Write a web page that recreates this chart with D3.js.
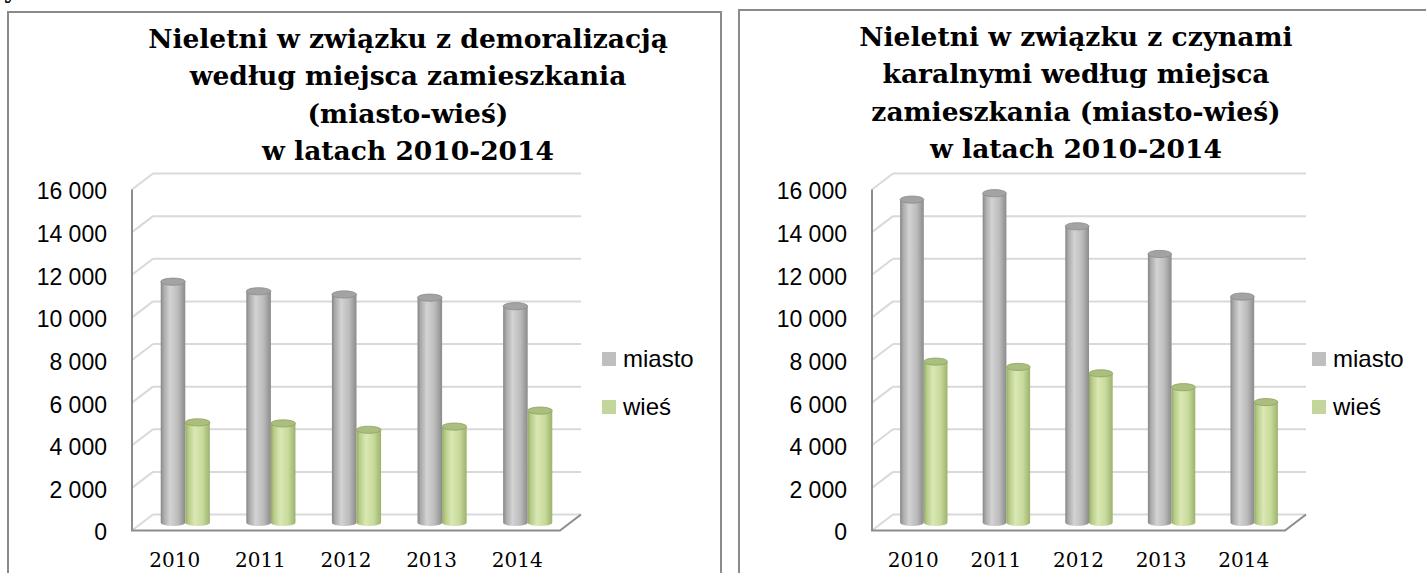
<!DOCTYPE html>
<html>
<head>
<meta charset="utf-8">
<script src="https://cdn.jsdelivr.net/npm/d3@7"></script>
<style>
  html, body { margin: 0; padding: 0; background: #fff; }
  svg { display: block; }
</style>
</head>
<body>
<svg id="chart" width="1426" height="573"></svg>
<script>
'use strict';

// Data
var years = ['2010', '2011', '2012', '2013', '2014'];
var seriesNames = ['miasto', 'wieś'];
var yTicks = [0, 2000, 4000, 6000, 8000, 10000, 12000, 14000, 16000];

var demoMiasto = [11300, 10850, 10700, 10550, 10150];
var demoWies = [4700, 4650, 4350, 4500, 5250];
var karalMiasto = [15150, 15450, 13900, 12600, 10600];
var karalWies = [7550, 7300, 7000, 6350, 5650];

var demoTitle = ['Nieletni w związku z demoralizacją', 'według miejsca zamieszkania', '(miasto-wieś)', 'w latach 2010-2014'];
var karalTitle = ['Nieletni w związku z czynami', 'karalnymi według miejsca', 'zamieszkania (miasto-wieś)', 'w latach 2010-2014'];

var svg = d3.select('#chart');
var defs = svg.append('defs');

var locale = d3.formatLocale({ decimal: ',', thousands: ' ', grouping: [3], currency: ['', ''] });
var fmt = locale.format(',d');

// Cylinder shading
function makeGradient(id, stops) {
    var g = defs.append('linearGradient')
        .attr('id', id)
        .attr('x1', '0%').attr('x2', '100%')
        .attr('y1', '0%').attr('y2', '0%');
    g.selectAll('stop')
        .data(stops)
        .enter().append('stop')
        .attr('offset', function(d) { return d[0]; })
        .attr('stop-color', function(d) { return d[1]; });
}
makeGradient('cyl-gray', [['0%', '#858585'], ['12%', '#a9a9a9'], ['38%', '#d3d3d3'], ['70%', '#bcbcbc'], ['100%', '#8b8b8b']]);
makeGradient('cyl-green', [['0%', '#93ab62'], ['12%', '#b6cb88'], ['38%', '#dae8b3'], ['70%', '#c8da9c'], ['100%', '#9cb36c']]);

var seriesStyle = {
    'miasto': { body: 'url(#cyl-gray)', top: '#a3a3a3', rim: '#8a8a8a', legend: '#bfbfbf' },
    'wieś': { body: 'url(#cyl-green)', top: '#aabf7f', rim: '#8ea35e', legend: '#c3d69b' }
};

// stray glyph from the page above the charts
svg.append('text')
    .attr('x', 4).attr('y', -2)
    .style('font-family', '"DejaVu Serif", serif')
    .style('font-weight', 'bold')
    .style('font-size', '22px')
    .text('y');

function drawChart(cfg) {
    var DX = 21, DY = 16;
    var root = svg.append('g');

    // frame
    root.append('path')
        .attr('d', 'M' + cfg.frame[0] + ',600 V' + cfg.frame[1] + ' H' + cfg.frame[2] + ' V600')
        .style('fill', 'none')
        .style('stroke', '#8a8a8a')
        .style('stroke-width', 2);

    // title
    var title = root.append('text')
        .attr('x', cfg.titleX)
        .attr('y', cfg.titleY)
        .style('text-anchor', 'middle')
        .style('font-family', '"DejaVu Serif", serif')
        .style('font-weight', 'bold')
        .style('font-size', '26.5px')
        .style('fill', '#000');
    title.selectAll('tspan')
        .data(cfg.title)
        .enter().append('tspan')
        .attr('x', cfg.titleX)
        .attr('dy', function(d, i) { return i ? 37.3 : 0; })
        .text(function(d) { return d; });

    // scales
    var x = d3.scaleBand().domain(years).range([cfg.x0, cfg.x1]);
    var y = d3.scaleLinear().domain([0, 16000]).range([530.5, 189.5]);
    var barW = x.step() * 0.287;
    var xs = d3.scaleBand().domain(seriesNames).range([-barW, barW]);

    // walls and gridlines
    var grid = root.append('g')
        .style('fill', 'none')
        .style('stroke', '#d9d9d9')
        .style('stroke-width', 2);
    grid.selectAll('.back')
        .data(yTicks)
        .enter().append('line')
        .attr('x1', cfg.x0 + DX).attr('x2', cfg.x1 + DX)
        .attr('y1', function(d) { return y(d) - DY; })
        .attr('y2', function(d) { return y(d) - DY; });
    grid.selectAll('.side')
        .data(yTicks)
        .enter().append('line')
        .attr('x1', cfg.x0).attr('x2', cfg.x0 + DX)
        .attr('y1', function(d) { return y(d); })
        .attr('y2', function(d) { return y(d) - DY; });

    // floor front edges + vertical axis
    root.append('path')
        .attr('d', 'M' + cfg.x0 + ',' + y(16000) + ' V' + y(0) + ' H' + cfg.x1 +
            ' L' + (cfg.x1 + DX) + ',' + (y(0) - DY))
        .style('fill', 'none')
        .style('stroke', '#8c8c8c')
        .style('stroke-width', 2);

    // cylinders
    var rows = years.map(function(yr, i) {
        return [
            { year: yr, name: 'miasto', value: cfg.miasto[i] },
            { year: yr, name: 'wieś', value: cfg.wies[i] }
        ];
    });
    var bars = root.append('g').selectAll('g')
        .data(d3.merge(rows))
        .enter().append('g');
    var RY = 3.6;
    function left(d) { return x(d.year) + x.step() / 2 + DX / 2 + xs(d.name); }
    function top(d) { return y(d.value) - DY / 2; }
    var bottom = y(0) - DY / 2;
    bars.append('path')
        .attr('d', function(d) {
            var l = left(d), r = l + xs.bandwidth(), t = top(d);
            return 'M' + l + ',' + t + ' V' + bottom +
                ' A' + (xs.bandwidth() / 2) + ',' + RY + ' 0 0 0 ' + r + ',' + bottom +
                ' V' + t + ' Z';
        })
        .style('fill', function(d) { return seriesStyle[d.name].body; });
    bars.append('ellipse')
        .attr('cx', function(d) { return left(d) + xs.bandwidth() / 2; })
        .attr('cy', top)
        .attr('rx', xs.bandwidth() / 2)
        .attr('ry', RY)
        .style('fill', function(d) { return seriesStyle[d.name].top; })
        .style('stroke', function(d) { return seriesStyle[d.name].rim; })
        .style('stroke-width', 0.8);

    // y axis labels
    var yAxis = d3.axisLeft(y)
        .tickValues(yTicks)
        .tickFormat(fmt)
        .tickSize(0)
        .tickPadding(25);
    var yg = root.append('g')
        .attr('transform', 'translate(' + cfg.x0 + ',2)')
        .call(yAxis);
    yg.select('.domain').remove();
    yg.selectAll('text')
        .style('font-family', '"Liberation Sans", Arial, sans-serif')
        .style('font-size', '23px')
        .style('fill', '#000');

    // x axis labels
    var xAxis = d3.axisBottom(x).tickSize(0).tickPadding(0);
    var xg = root.append('g')
        .attr('transform', 'translate(0,567)')
        .call(xAxis);
    xg.select('.domain').remove();
    xg.selectAll('text')
        .attr('y', 0)
        .attr('dy', null)
        .style('font-family', '"DejaVu Serif", serif')
        .style('font-size', '20px')
        .style('fill', '#000');

    // legend
    var lg = root.append('g').selectAll('g')
        .data(seriesNames)
        .enter().append('g')
        .attr('transform', function(d, i) { return 'translate(' + cfg.legendX + ',' + (352 + i * 48) + ')'; });
    lg.append('rect')
        .attr('width', 14).attr('height', 14)
        .style('fill', function(d) { return seriesStyle[d].legend; });
    lg.append('text')
        .attr('x', 21).attr('y', 14.5)
        .style('font-family', '"Liberation Sans", Arial, sans-serif')
        .style('font-size', '24px')
        .style('fill', '#000')
        .text(function(d) { return d; });
}

drawChart({
    frame: [8, 12, 721],
    title: demoTitle, titleX: 408, titleY: 48,
    x0: 132, x1: 560, legendX: 602,
    miasto: demoMiasto, wies: demoWies
});
drawChart({
    frame: [739, 10, 1440],
    title: karalTitle, titleX: 1076, titleY: 46,
    x0: 872, x1: 1285, legendX: 1312,
    miasto: karalMiasto, wies: karalWies
});
</script>
</body>
</html>
